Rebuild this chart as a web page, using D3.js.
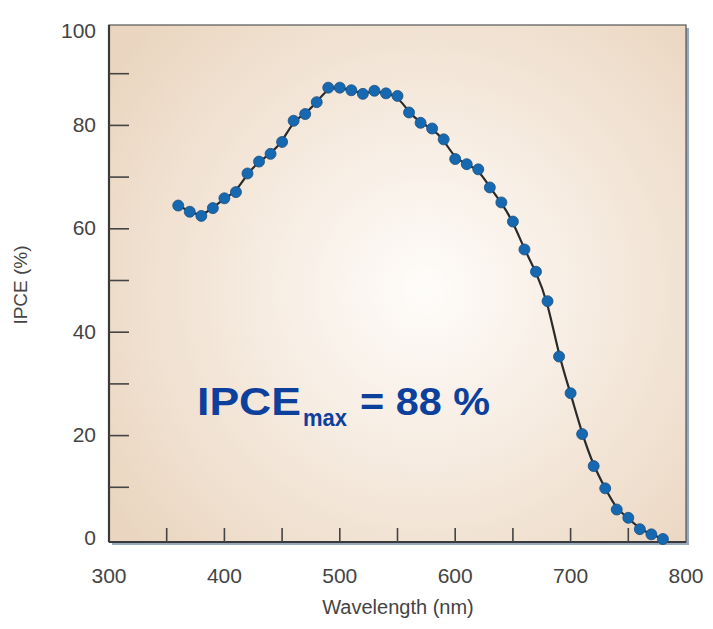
<!DOCTYPE html>
<html>
<head>
<meta charset="utf-8" />
<title>IPCE spectrum</title>
<style>
    body { margin: 0; background: #fff; }
    svg text { font-family: "Liberation Sans", Arial, sans-serif; }
</style>
</head>
<body>
<div id="chart"></div>
<script src="https://d3js.org/d3.v7.min.js"></script>
<script>
// wavelength (nm) and IPCE (%)
var wavelength = [360, 370, 380, 390, 400, 410, 420, 430, 440, 450, 460, 470, 480, 490, 500,
    510, 520, 530, 540, 550, 560, 570, 580, 590, 600, 610, 620, 630, 640, 650, 660, 670,
    680, 690, 700, 710, 720, 730, 740, 750, 760, 770, 780];
var ipce = [64.5, 63.3, 62.5, 64.0, 65.9, 67.1, 70.7, 73.0, 74.5, 76.8, 80.9, 82.2, 84.5, 87.3, 87.3,
    86.8, 86.1, 86.7, 86.2, 85.7, 82.5, 80.5, 79.4, 77.3, 73.5, 72.5, 71.5, 68.0, 65.1, 61.4, 56.0, 51.7,
    46.0, 35.3, 28.2, 20.3, 14.1, 9.8, 5.7, 4.1, 1.9, 0.9, 0.0];
var xTickLabels = [300, 400, 500, 600, 700, 800];
var xMinorTicks = [350, 450, 550, 650, 750];
var yTickLabels = [0, 20, 40, 60, 80, 100];
var yMinorTicks = [10, 30, 50, 70, 90];

var width = 713, height = 629;
var margin = { top: 22, right: 27, bottom: 90, left: 109 };

var svg = d3.select("#chart").append("svg")
    .attr("width", width)
    .attr("height", height);

var x = d3.scaleLinear().domain([300, 800]).range([margin.left, width - margin.right]);
var y = d3.scaleLinear().domain([0, 100]).range([height - margin.bottom, margin.top]);

var defs = svg.append("defs");
var grad = defs.append("radialGradient")
    .attr("id", "bg")
    .attr("gradientUnits", "userSpaceOnUse")
    .attr("cx", 425).attr("cy", 290).attr("r", 380);
grad.append("stop").attr("offset", "0%").attr("stop-color", "#fefcfa");
grad.append("stop").attr("offset", "35%").attr("stop-color", "#f8efe6");
grad.append("stop").attr("offset", "100%").attr("stop-color", "#ead6c0");

var x0 = x(300), x1 = x(800), yTop = y(100) + 3, yBot = y(0) + 3;

// shadow on right/bottom
svg.append("rect")
    .attr("x", x0 + 3).attr("y", yTop + 3)
    .attr("width", x1 - x0).attr("height", yBot - yTop)
    .attr("fill", "#9aa8bb");

svg.append("rect")
    .attr("x", x0).attr("y", yTop)
    .attr("width", x1 - x0).attr("height", yBot - yTop)
    .attr("fill", "url(#bg)")
    .attr("stroke", "#555")
    .attr("stroke-width", 1.2);

// heavy left and bottom axis lines
svg.append("line")
    .attr("x1", x0).attr("x2", x0).attr("y1", yTop).attr("y2", yBot)
    .attr("stroke", "#3a3a3a").attr("stroke-width", 2.2);
svg.append("line")
    .attr("x1", x0).attr("x2", x1).attr("y1", yBot).attr("y2", yBot)
    .attr("stroke", "#3a3a3a").attr("stroke-width", 2.2);

// y ticks (inward)
var yTicks = yTickLabels.concat(yMinorTicks).filter(function(d) { return d > 0 && d < 100; });
svg.append("g").selectAll("line")
    .data(yTicks)
    .enter().append("line")
    .attr("x1", x0).attr("x2", x0 + 20)
    .attr("y1", function(d) { return y(d); })
    .attr("y2", function(d) { return y(d); })
    .attr("stroke", "#444").attr("stroke-width", 1.6);

// x ticks (inward)
var xTicks = xTickLabels.concat(xMinorTicks).filter(function(d) { return d > 300 && d < 800; });
svg.append("g").selectAll("line")
    .data(xTicks)
    .enter().append("line")
    .attr("x1", function(d) { return x(d); })
    .attr("x2", function(d) { return x(d); })
    .attr("y1", yBot).attr("y2", yBot - 14)
    .attr("stroke", "#444").attr("stroke-width", 1.6);

svg.append("g").selectAll("text")
    .data(yTickLabels)
    .enter().append("text")
    .attr("x", 96)
    .attr("y", function(d) { return d === 100 ? y(d) + 9 : y(d) - 1; })
    .attr("dy", "0.35em")
    .attr("text-anchor", "end")
    .attr("font-size", 21)
    .attr("fill", "#444")
    .text(function(d) { return d; });

svg.append("g").selectAll("text")
    .data(xTickLabels)
    .enter().append("text")
    .attr("x", function(d) { return x(d); })
    .attr("y", 576)
    .attr("dy", "0.35em")
    .attr("text-anchor", "middle")
    .attr("font-size", 21)
    .attr("fill", "#444")
    .text(function(d) { return d; });

svg.append("text")
    .attr("transform", "translate(27,285) rotate(-90)")
    .attr("text-anchor", "middle")
    .attr("font-size", 19)
    .attr("fill", "#444")
    .text("IPCE (%)");

svg.append("text")
    .attr("x", 398).attr("y", 614)
    .attr("text-anchor", "middle")
    .attr("font-size", 20)
    .attr("fill", "#444")
    .text("Wavelength (nm)");

// data
var pts = wavelength.map(function(w, i) { return [w, ipce[i]]; });

var line = d3.line()
    .x(function(d) { return x(d[0]); })
    .y(function(d) { return y(d[1]); })
    .curve(d3.curveBasis);

svg.append("path")
    .datum(pts)
    .attr("d", line)
    .attr("fill", "none")
    .attr("stroke", "#2a2a2a")
    .attr("stroke-width", 2.2);

svg.append("g").selectAll("circle")
    .data(pts)
    .enter().append("circle")
    .attr("cx", function(d) { return x(d[0]); })
    .attr("cy", function(d) { return y(d[1]); })
    .attr("r", 5.5)
    .attr("fill", "#1668b0")
    .attr("stroke", "#1d4f7e")
    .attr("stroke-width", 0.8);

// annotation, stretched a little to match the wide lettering
var annColor = "#0d3f9c";
svg.append("text")
    .attr("x", 197).attr("y", 415)
    .attr("font-weight", "bold").attr("font-size", 38)
    .attr("textLength", 104).attr("lengthAdjust", "spacingAndGlyphs")
    .attr("fill", annColor)
    .text("IPCE");
svg.append("text")
    .attr("x", 303).attr("y", 426)
    .attr("font-weight", "bold").attr("font-size", 24)
    .attr("textLength", 44).attr("lengthAdjust", "spacingAndGlyphs")
    .attr("fill", annColor)
    .text("max");
svg.append("text")
    .attr("x", 360).attr("y", 415)
    .attr("font-weight", "bold").attr("font-size", 38)
    .attr("textLength", 130).attr("lengthAdjust", "spacingAndGlyphs")
    .attr("fill", annColor)
    .text("= 88 %");
</script>
</body>
</html>
